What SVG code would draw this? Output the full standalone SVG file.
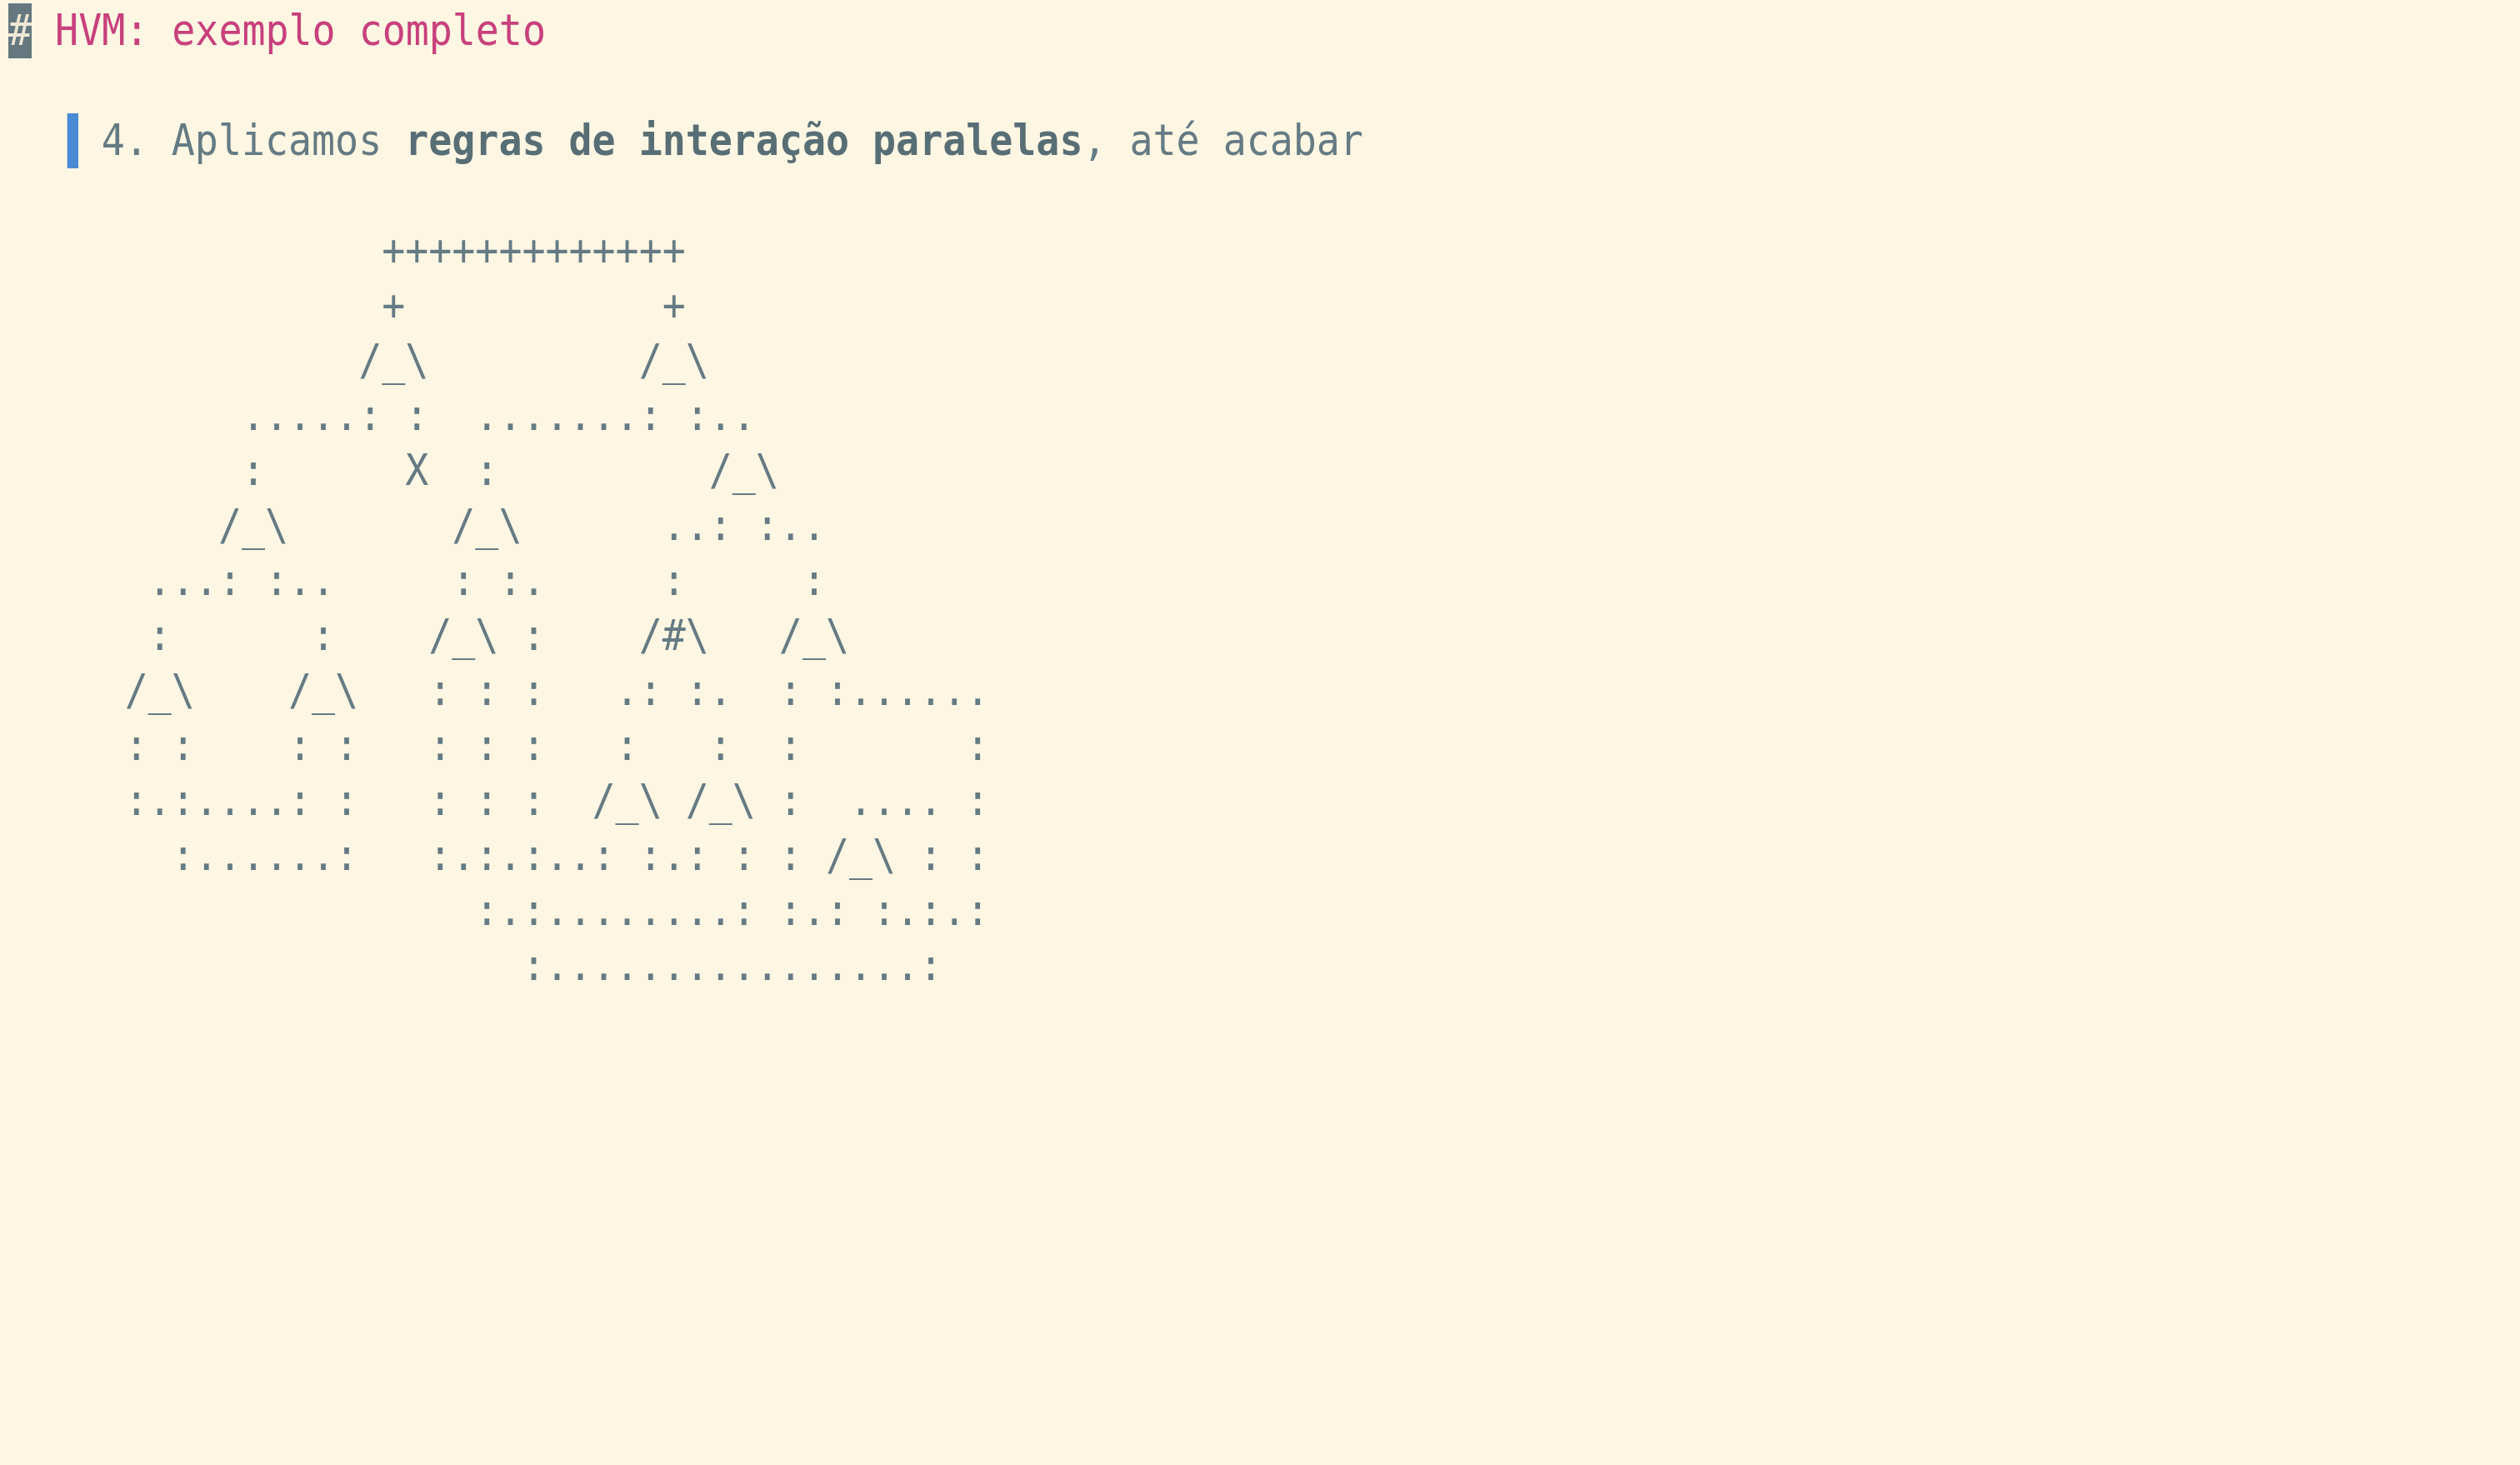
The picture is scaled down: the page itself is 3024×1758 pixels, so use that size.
<svg xmlns="http://www.w3.org/2000/svg" width="3024" height="1758" viewBox="0 0 3024 1758">
  <style>
    .t { font-family: "DejaVu Sans Mono", "Liberation Mono", monospace; font-size: 51px; }
    .art { fill: #657b83; }
    .body { fill: #657b83; }
    .bold { fill: #586e75; font-weight: bold; }
    .head { fill: #c8407c; }
    .hash { fill: #eee8d5; }
  </style>
  <rect x="0" y="0" width="3024" height="1758" fill="#fdf6e3"/>

  <g id="heading">
    <rect x="10" y="4" width="28" height="66" fill="#66787f"/>
    <g transform="scale(0.9136,1)">
      <text class="t" x="10.95" y="54" xml:space="preserve"><tspan class="hash">#</tspan><tspan class="head"> HVM: exemplo completo</tspan></text>
    </g>
  </g>

  <g id="quote">
    <rect x="80.7" y="136" width="13.3" height="66" fill="#4a8ad4"/>
    <g transform="scale(0.9136,1)">
      <text class="t body" x="133.2" y="186" xml:space="preserve">4. Aplicamos <tspan class="bold">regras de interação paralelas</tspan>, até acabar</text>
    </g>
  </g>

  <g id="ascii-art" transform="scale(0.9136,1)">
    <text class="t art" x="133.2" y="318" xml:space="preserve">            +++++++++++++</text>
    <text class="t art" x="133.2" y="384" xml:space="preserve">            +           +</text>
    <text class="t art" x="133.2" y="450" xml:space="preserve">           /_\         /_\</text>
    <text class="t art" x="133.2" y="516" xml:space="preserve">      .....: :  .......: :..</text>
    <text class="t art" x="133.2" y="582" xml:space="preserve">      :      X  :         /_\</text>
    <text class="t art" x="133.2" y="648" xml:space="preserve">     /_\       /_\      ..: :..</text>
    <text class="t art" x="133.2" y="714" xml:space="preserve">  ...: :..     : :.     :     :</text>
    <text class="t art" x="133.2" y="780" xml:space="preserve">  :      :    /_\ :    /#\   /_\</text>
    <text class="t art" x="133.2" y="846" xml:space="preserve"> /_\    /_\   : : :   .: :.  : :......</text>
    <text class="t art" x="133.2" y="912" xml:space="preserve"> : :    : :   : : :   :   :  :       :</text>
    <text class="t art" x="133.2" y="978" xml:space="preserve"> :.:....: :   : : :  /_\ /_\ :  .... :</text>
    <text class="t art" x="133.2" y="1044" xml:space="preserve">   :......:   :.:.:..: :.: : : /_\ : :</text>
    <text class="t art" x="133.2" y="1110" xml:space="preserve">                :.:........: :.: :.:.:</text>
    <text class="t art" x="133.2" y="1176" xml:space="preserve">                  :................:</text>
  </g>
</svg>
